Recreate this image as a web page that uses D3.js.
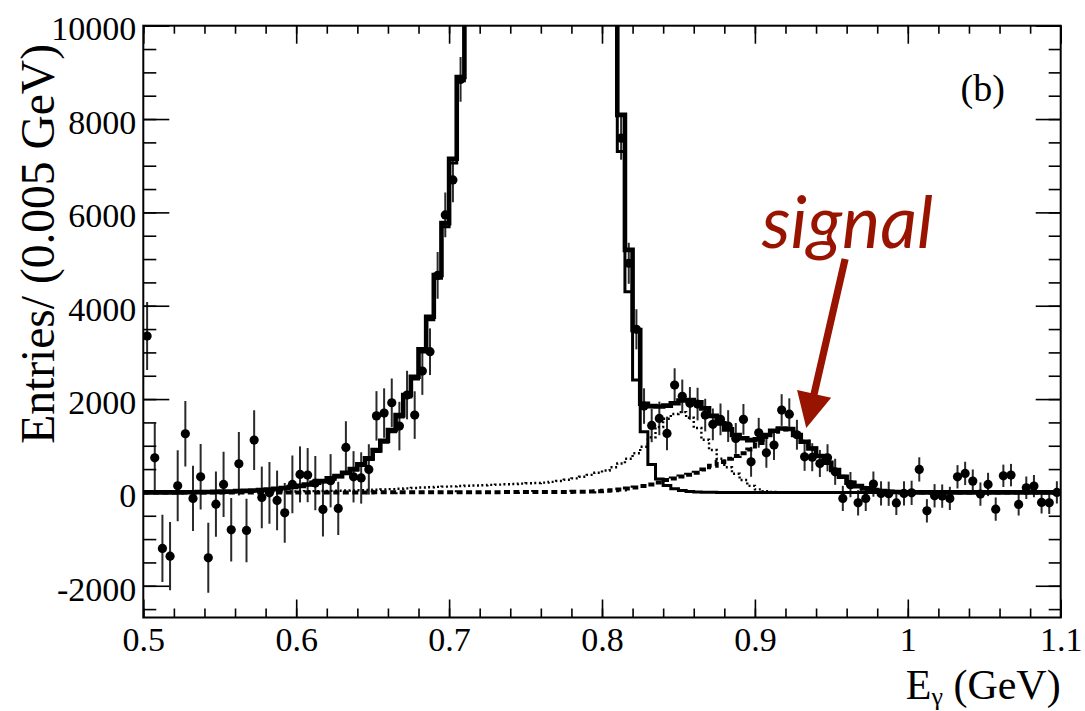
<!DOCTYPE html>
<html>
<head>
<meta charset="utf-8">
<script src="https://cdn.jsdelivr.net/npm/d3@7"></script>
<style>
body { margin: 0; background: #fff; }
svg text { font-family: "Liberation Serif", "Times New Roman", serif; fill: #000; }
</style>
</head>
<body>
<svg id="chart" width="1085" height="711"></svg>
<script>
// ---------------- data: 120 bins of 0.005 GeV from 0.5 to 1.1 ----------------
var binStart = 0.5;
var binWidth = 0.005;

// data points (null where the point is off scale)
var dataVals = [
  3351, 742, -1200, -1366, 142, 1257, -129, 335, -1402, -251,
  171, -801, 614, -815, 1121, -107, -9, -172, -437, 171,
  386, 371, 200, -365, 250, -343, 965, 335, 310, 493,
  1640, 1700, 1921, 1421, 2086, 1657, 2600, 3015, 4650, 5945,
  6696, 8850, null, null, null, null, null, null, null, null,
  null, null, null, null, null, null, null, null, null, null,
  null, null, 7590, 4910, 3495, 1850, 1436, 1586, 1264, 2300,
  2058, 1908, 1893, 1657, 1458, 1565, 1421, 1157, 1565, 656,
  1278, 849, 1014, 1765, 1676, 1236, 763, 754, 620, 742,
  442, -129, 167, -222, -129, 178, -21, -28, -225, -21,
  -9, 493, -394, -72, -79, -129, 335, 407, 242, -36,
  171, -358, 356, 371, -257, 99, 135, -214, -222, 0
];
var dataErrs = [
  730, 740, 720, 730, 760, 700, 700, 700, 750, 700,
  700, 680, 680, 680, 640, 660, 660, 640, 640, 620,
  600, 580, 580, 580, 570, 570, 560, 550, 550, 540,
  530, 530, 520, 520, 520, 510, 510, 500, 500, 480,
  480, 480, 0, 0, 0, 0, 0, 0, 0, 0,
  0, 0, 0, 0, 0, 0, 0, 0, 0, 0,
  0, 0, 460, 440, 430, 380, 360, 360, 360, 360,
  360, 350, 350, 350, 340, 340, 340, 330, 330, 320,
  320, 320, 320, 340, 340, 320, 300, 300, 290, 290,
  280, 270, 270, 270, 270, 270, 260, 260, 260, 260,
  260, 260, 250, 250, 250, 250, 250, 250, 250, 250,
  250, 250, 240, 240, 240, 240, 240, 240, 240, 240
];

// total fit (thick solid)
var totalFit = [
  0, 0, 0, 1, 2, 3, 4, 6, 9, 12,
  16, 21, 27, 34, 42, 52, 64, 78, 95, 115,
  140, 171, 206, 242, 300, 350, 420, 500, 600, 729,
  907, 1107, 1336, 1657, 2086, 2479, 3066, 3765, 4659, 5770,
  7150, 8900, 12000, 15000, 19000, 24000, 30000, 36000, 41000, 44000,
  45000, 44000, 41000, 36000, 30000, 25000, 20000, 16000, 13000, 11500,
  10800, 10300, 8089, 5196, 3480, 1900, 1850, 1840, 1860, 1910,
  1970, 1980, 1930, 1800, 1640, 1480, 1350, 1230, 1160, 1120,
  1140, 1230, 1320, 1370, 1360, 1230, 1085, 940, 780, 635,
  480, 335, 206, 135, 86, 50, 30, 15, 8, 4,
  2, 1, 0, 0, 0, 0, 0, 0, 0, 0,
  0, 0, 0, 0, 0, 0, 0, 0, 0, 0
];

// main peak component (thinner solid)
var peakFit = [
  0, 0, 0, 1, 2, 3, 4, 6, 8, 11,
  15, 20, 26, 32, 40, 49, 60, 73, 89, 108,
  132, 162, 196, 230, 285, 335, 402, 480, 578, 703,
  878, 1075, 1300, 1618, 2045, 2430, 3010, 3700, 4590, 5690,
  7060, 8820, 12000, 15000, 19000, 24000, 30000, 36000, 41000, 44000,
  45000, 44000, 41000, 36000, 30000, 25000, 20000, 16000, 13000, 11500,
  10800, 10300, 7302, 4301, 2410, 1300, 600, 290, 150, 80,
  40, 20, 10, 5, 2, 0, 0, 0, 0, 0,
  0, 0, 0, 0, 0, 0, 0, 0, 0, 0,
  0, 0, 0, 0, 0, 0, 0, 0, 0, 0,
  0, 0, 0, 0, 0, 0, 0, 0, 0, 0,
  0, 0, 0, 0, 0, 0, 0, 0, 0, 0
];

// background bump (fine dotted)
var bkgDotted = [
  5, 5, 6, 6, 7, 7, 8, 8, 9, 10,
  10, 11, 12, 13, 14, 15, 16, 18, 19, 21,
  23, 25, 27, 30, 33, 36, 40, 44, 48, 53,
  58, 64, 70, 78, 86, 95, 105, 112, 118, 124,
  130, 136, 142, 148, 155, 161, 167, 174, 181, 189,
  196, 203, 210, 225, 245, 270, 300, 335, 375, 420,
  470, 540, 620, 720, 840, 980, 1180, 1400, 1580, 1680,
  1720, 1600, 1380, 1130, 910, 720, 540, 400, 265, 140,
  65, 25, 8, 2, 0, 0, 0, 0, 0, 0,
  0, 0, 0, 0, 0, 0, 0, 0, 0, 0,
  0, 0, 0, 0, 0, 0, 0, 0, 0, 0,
  0, 0, 0, 0, 0, 0, 0, 0, 0, 0
];

// signal (thick dashed)
var signalDashed = [
  0, 0, 0, 0, 0, 0, 0, 0, 0, 0,
  0, 0, 0, 0, 0, 0, 0, 0, 0, 0,
  0, 0, 0, 0, 0, 0, 0, 0, 0, 0,
  2, 2, 2, 3, 3, 3, 3, 4, 4, 4,
  4, 5, 5, 5, 6, 6, 6, 7, 7, 8,
  8, 9, 9, 10, 10, 11, 12, 13, 18, 25,
  35, 48, 64, 85, 108, 135, 170, 215, 264, 300,
  340, 380, 420, 490, 570, 650, 720, 780, 840, 920,
  1060, 1190, 1300, 1360, 1350, 1230, 1085, 940, 780, 635,
  480, 335, 206, 135, 86, 50, 30, 15, 8, 4,
  2, 1, 0, 0, 0, 0, 0, 0, 0, 0,
  0, 0, 0, 0, 0, 0, 0, 0, 0, 0
];

var xMajor = [0.5, 0.6, 0.7, 0.8, 0.9, 1.0, 1.1];
var xLabels = ["0.5", "0.6", "0.7", "0.8", "0.9", "1", "1.1"];
var yMajor = [-2000, 0, 2000, 4000, 6000, 8000, 10000];
var yLabels = ["-2000", "0", "2000", "4000", "6000", "8000", "10000"];

// ---------------- layout ----------------
var width = 1085, height = 711;
var margin = {top: 25.7, right: 24.3, bottom: 93.5, left: 143.3};
var plotW = width - margin.left - margin.right;
var plotH = height - margin.top - margin.bottom;

var svg = d3.select('#chart');

var x = d3.scaleLinear().domain([0.5, 1.1]).range([margin.left, margin.left + plotW]);
var y = d3.scaleLinear().domain([-2680, 10000]).range([margin.top + plotH, margin.top]);

svg.append('defs').append('clipPath').attr('id', 'plotClip')
  .append('rect')
    .attr('x', margin.left).attr('y', margin.top)
    .attr('width', plotW).attr('height', plotH);

var plot = svg.append('g').attr('clip-path', 'url(#plotClip)');

// ---------------- data points ----------------
var pts = dataVals.map(function(v, i){
  return {xc: binStart + (i + 0.5) * binWidth, v: v, e: dataErrs[i]};
}).filter(function(d){ return d.v !== null; });

plot.selectAll('.err')
  .data(pts)
  .enter()
  .append('line')
    .classed('err', true)
    .attr('x1', d => x(d.xc)).attr('x2', d => x(d.xc))
    .attr('y1', d => y(d.v - d.e)).attr('y2', d => y(d.v + d.e))
    .attr('stroke', '#2a2a2a')
    .attr('stroke-width', 2);

// ---------------- fit histograms ----------------
function stepPath(vals){
  var p = vals.map(function(v, i){ return [binStart + i * binWidth, v]; });
  p.push([binStart + vals.length * binWidth, vals[vals.length - 1]]);
  return d3.line()
    .x(d => x(d[0]))
    .y(d => y(Math.max(Math.min(d[1], 14000), -3000)))
    .curve(d3.curveStepAfter)(p);
}

plot.append('path')
  .attr('d', stepPath(bkgDotted))
  .attr('fill', 'none').attr('stroke', '#000')
  .attr('stroke-width', 2.4).attr('stroke-dasharray', '2,2.6');

plot.append('path')
  .attr('d', stepPath(signalDashed))
  .attr('fill', 'none').attr('stroke', '#000')
  .attr('stroke-width', 4).attr('stroke-dasharray', '6,3.5');

plot.append('path')
  .attr('d', stepPath(totalFit))
  .attr('fill', 'none').attr('stroke', '#000')
  .attr('stroke-width', 4.6);

plot.append('path')
  .attr('d', stepPath(peakFit))
  .attr('fill', 'none').attr('stroke', '#000')
  .attr('stroke-width', 3);

plot.selectAll('.dot')
  .data(pts)
  .enter()
  .append('circle')
    .classed('dot', true)
    .attr('cx', d => x(d.xc))
    .attr('cy', d => y(d.v))
    .attr('r', 4.6)
    .attr('fill', '#000');

// ---------------- axes ----------------
var fontSize = 34;
var xMinor = d3.range(0.5, 1.1001, 0.02);
var yMinor = d3.range(-2500, 10001, 500);

function styleAxis(g){
  g.select('.domain').remove();
  g.selectAll('line').attr('stroke', '#000').attr('stroke-width', 1.6);
}

// bottom
svg.append('g')
  .attr('transform', `translate(0,${margin.top + plotH})`)
  .call(d3.axisBottom(x).tickValues(xMinor).tickSize(-9).tickFormat(''))
  .call(styleAxis);
var xb = svg.append('g')
  .attr('transform', `translate(0,${margin.top + plotH})`)
  .call(d3.axisBottom(x).tickValues(xMajor).tickSize(-18).tickFormat((d, i) => xLabels[i]))
  .call(styleAxis);
xb.selectAll('text')
  .attr('y', 33).attr('dy', null)
  .style('font-size', fontSize + 'px')
  .style('font-family', '"Liberation Serif", serif');

// top
svg.append('g')
  .attr('transform', `translate(0,${margin.top})`)
  .call(d3.axisTop(x).tickValues(xMinor).tickSize(-8).tickFormat(''))
  .call(styleAxis);
svg.append('g')
  .attr('transform', `translate(0,${margin.top})`)
  .call(d3.axisTop(x).tickValues(xMajor).tickSize(-18).tickFormat(''))
  .call(styleAxis);

// left
svg.append('g')
  .attr('transform', `translate(${margin.left},0)`)
  .call(d3.axisLeft(y).tickValues(yMinor).tickSize(-13).tickFormat(''))
  .call(styleAxis);
var yl = svg.append('g')
  .attr('transform', `translate(${margin.left},0)`)
  .call(d3.axisLeft(y).tickValues(yMajor).tickSize(-26).tickPadding(7).tickFormat((d, i) => yLabels[i]))
  .call(styleAxis);
yl.selectAll('text')
  .attr('dy', '0.42em')
  .style('font-size', fontSize + 'px')
  .style('font-family', '"Liberation Serif", serif');

// right
svg.append('g')
  .attr('transform', `translate(${margin.left + plotW},0)`)
  .call(d3.axisRight(y).tickValues(yMinor).tickSize(-12).tickFormat(''))
  .call(styleAxis);
svg.append('g')
  .attr('transform', `translate(${margin.left + plotW},0)`)
  .call(d3.axisRight(y).tickValues(yMajor).tickSize(-25).tickFormat(''))
  .call(styleAxis);

// frame
svg.append('rect')
  .attr('x', margin.left).attr('y', margin.top)
  .attr('width', plotW).attr('height', plotH)
  .attr('fill', 'none').attr('stroke', '#000').attr('stroke-width', 2);

// ---------------- titles ----------------
svg.append('text')
  .attr('transform', 'translate(54,44) rotate(-90)')
  .attr('text-anchor', 'end')
  .style('font-size', '47.5px')
  .text('Entries/ (0.005 GeV)');

var xt = svg.append('text')
  .attr('x', margin.left + plotW)
  .attr('y', 699)
  .attr('text-anchor', 'end')
  .style('font-size', '42px');
xt.append('tspan').text('E');
xt.append('tspan').attr('dy', 6).style('font-size', '26px').text('γ');
xt.append('tspan').attr('dy', -6).text(' (GeV)');

svg.append('text')
  .attr('x', x(1.0345)).attr('y', y(8380))
  .style('font-size', '38px')
  .text('(b)');

// ---------------- signal annotation ----------------
var red = '#981400';
svg.append('text')
  .attr('x', x(0.9045)).attr('y', y(5238))
  .style('font-family', 'Lato, "Open Sans", sans-serif')
  .style('font-style', 'italic')
  .style('font-size', '72px')
  .style('fill', red)
  .text('signal');

var tail = [x(0.959), y(5000)];
var tip = [x(0.9336), y(1380)];
var dx = tip[0] - tail[0], dy = tip[1] - tail[1];
var len = Math.sqrt(dx * dx + dy * dy);
var ux = dx / len, uy = dy / len, nx = -uy, ny = ux;
var headLen = 35, headHalf = 17.5, shaftHalf = 3.6;
var bx = tip[0] - ux * headLen, by = tip[1] - uy * headLen;
var arrowPts = [
  [tail[0] + nx * shaftHalf, tail[1] + ny * shaftHalf],
  [bx + nx * shaftHalf, by + ny * shaftHalf],
  [bx + nx * headHalf, by + ny * headHalf],
  tip,
  [bx - nx * headHalf, by - ny * headHalf],
  [bx - nx * shaftHalf, by - ny * shaftHalf],
  [tail[0] - nx * shaftHalf, tail[1] - ny * shaftHalf]
];
svg.append('path')
  .attr('d', d3.line()(arrowPts) + 'Z')
  .attr('fill', red);
</script>
</body>
</html>
